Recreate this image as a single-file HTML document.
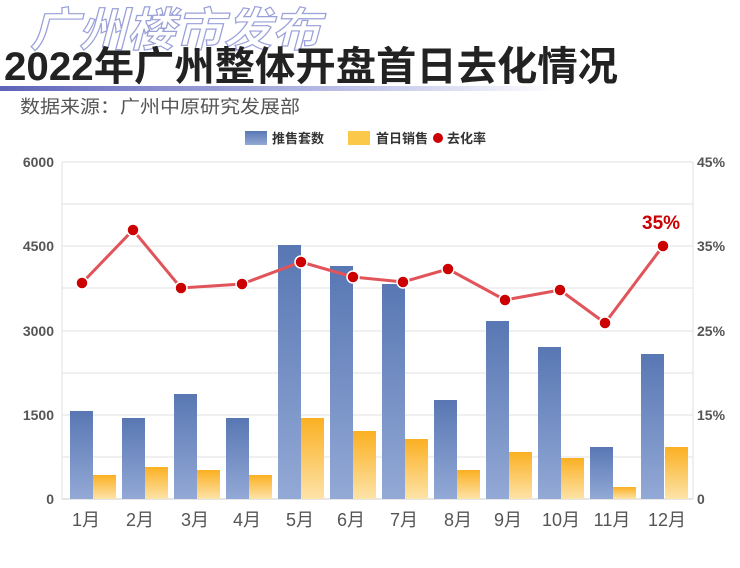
<!DOCTYPE html>
<html><head><meta charset="utf-8"><style>
body{margin:0;background:#fff;}
svg text{font-family:"Liberation Sans","Noto Sans CJK SC",sans-serif;}
</style></head><body>
<svg width="740" height="563" viewBox="0 0 740 563" xmlns="http://www.w3.org/2000/svg">
<defs>
<linearGradient id="bl" x1="0" y1="0" x2="0" y2="1"><stop offset="0" stop-color="#5877b3"/><stop offset="1" stop-color="#93a9d6"/></linearGradient>
<linearGradient id="or" x1="0" y1="0" x2="0" y2="1"><stop offset="0" stop-color="#fbb022"/><stop offset="1" stop-color="#fde3a8"/></linearGradient>
<linearGradient id="bar" x1="0" y1="0" x2="1" y2="0"><stop offset="0" stop-color="#5e63b8"/><stop offset="0.6" stop-color="#b9bde6"/><stop offset="1" stop-color="#fff"/></linearGradient>
</defs>
<text x="30" y="46" font-size="46" font-weight="bold" font-style="italic" fill="#fff" stroke="#9aa0d8" stroke-width="1.2" textLength="290" lengthAdjust="spacingAndGlyphs">广州楼市发布</text>
<text x="4" y="80" font-size="40" font-weight="bold" fill="#222" textLength="614" lengthAdjust="spacingAndGlyphs">2022年广州整体开盘首日去化情况</text>
<rect x="0" y="86" width="560" height="5" fill="url(#bar)"/>
<text x="20" y="113" font-size="18" fill="#555" textLength="280" lengthAdjust="spacingAndGlyphs">数据来源：广州中原研究发展部</text>
<rect x="245" y="131" width="22" height="14" fill="url(#bl)"/>
<text x="272" y="143" font-size="13" font-weight="bold" fill="#333">推售套数</text>
<rect x="348" y="131" width="22" height="14" fill="#fbc84a"/>
<text x="376" y="143" font-size="13" font-weight="bold" fill="#333">首日销售</text>
<circle cx="438" cy="138" r="5" fill="#c00"/>
<text x="447" y="143" font-size="13" font-weight="bold" fill="#333">去化率</text>
<g stroke="#e2e2e2" stroke-width="1">
<line x1="62" y1="162" x2="693" y2="162"/><line x1="62" y1="204" x2="693" y2="204"/>
<line x1="62" y1="246" x2="693" y2="246"/><line x1="62" y1="288" x2="693" y2="288"/>
<line x1="62" y1="331" x2="693" y2="331"/><line x1="62" y1="373" x2="693" y2="373"/>
<line x1="62" y1="415" x2="693" y2="415"/><line x1="62" y1="457" x2="693" y2="457"/>
<line x1="62" y1="162" x2="62" y2="499"/><line x1="693" y1="162" x2="693" y2="499"/>
</g>
<line x1="62" y1="499" x2="693" y2="499" stroke="#ccc"/>
<g font-size="14" font-weight="bold" fill="#555" text-anchor="end">
<text x="54" y="167">6000</text><text x="54" y="251">4500</text><text x="54" y="336">3000</text><text x="54" y="420">1500</text><text x="54" y="504">0</text>
</g>
<g font-size="14" font-weight="bold" fill="#555">
<text x="697" y="167">45%</text><text x="697" y="251">35%</text><text x="697" y="336">25%</text><text x="697" y="420">15%</text><text x="697" y="504">0</text>
</g>
<g fill="url(#bl)">
<rect x="70" y="411" width="23" height="88"/><rect x="122" y="418" width="23" height="81"/>
<rect x="174" y="394" width="23" height="105"/><rect x="226" y="418" width="23" height="81"/>
<rect x="278" y="245" width="23" height="254"/><rect x="330" y="266" width="23" height="233"/>
<rect x="382" y="284" width="23" height="215"/><rect x="434" y="400" width="23" height="99"/>
<rect x="486" y="321" width="23" height="178"/><rect x="538" y="347" width="23" height="152"/>
<rect x="590" y="447" width="23" height="52"/><rect x="641" y="354" width="23" height="145"/>
</g>
<g fill="url(#or)">
<rect x="93" y="475" width="23" height="24"/><rect x="145" y="467" width="23" height="32"/>
<rect x="197" y="470" width="23" height="29"/><rect x="249" y="475" width="23" height="24"/>
<rect x="301" y="418" width="23" height="81"/><rect x="353" y="431" width="23" height="68"/>
<rect x="405" y="439" width="23" height="60"/><rect x="457" y="470" width="23" height="29"/>
<rect x="509" y="452" width="23" height="47"/><rect x="561" y="458" width="23" height="41"/>
<rect x="613" y="487" width="23" height="12"/><rect x="665" y="447" width="23" height="52"/>
</g>
<polyline fill="none" stroke="#e0545a" stroke-width="3" points="82,283 133,230 181,288 242,284 301,262 353,277 403,282 448,269 505,300 560,290 605,323 663,246"/>
<g fill="#c00" stroke="#fff" stroke-width="1.5">
<circle cx="82" cy="283" r="6"/><circle cx="133" cy="230" r="6"/><circle cx="181" cy="288" r="6"/><circle cx="242" cy="284" r="6"/>
<circle cx="301" cy="262" r="6"/><circle cx="353" cy="277" r="6"/><circle cx="403" cy="282" r="6"/><circle cx="448" cy="269" r="6"/>
<circle cx="505" cy="300" r="6"/><circle cx="560" cy="290" r="6"/><circle cx="605" cy="323" r="6"/><circle cx="663" cy="246" r="6"/>
</g>
<text x="642" y="229" font-size="19" font-weight="bold" fill="#c00">35%</text>
<g font-size="18" fill="#555" text-anchor="middle">
<text x="86" y="526">1月</text><text x="140" y="526">2月</text><text x="195" y="526">3月</text><text x="247" y="526">4月</text>
<text x="300" y="526">5月</text><text x="351" y="526">6月</text><text x="404" y="526">7月</text><text x="458" y="526">8月</text>
<text x="508" y="526">9月</text><text x="561" y="526">10月</text><text x="612" y="526">11月</text><text x="667" y="526">12月</text>
</g>
</svg>
</body></html>
